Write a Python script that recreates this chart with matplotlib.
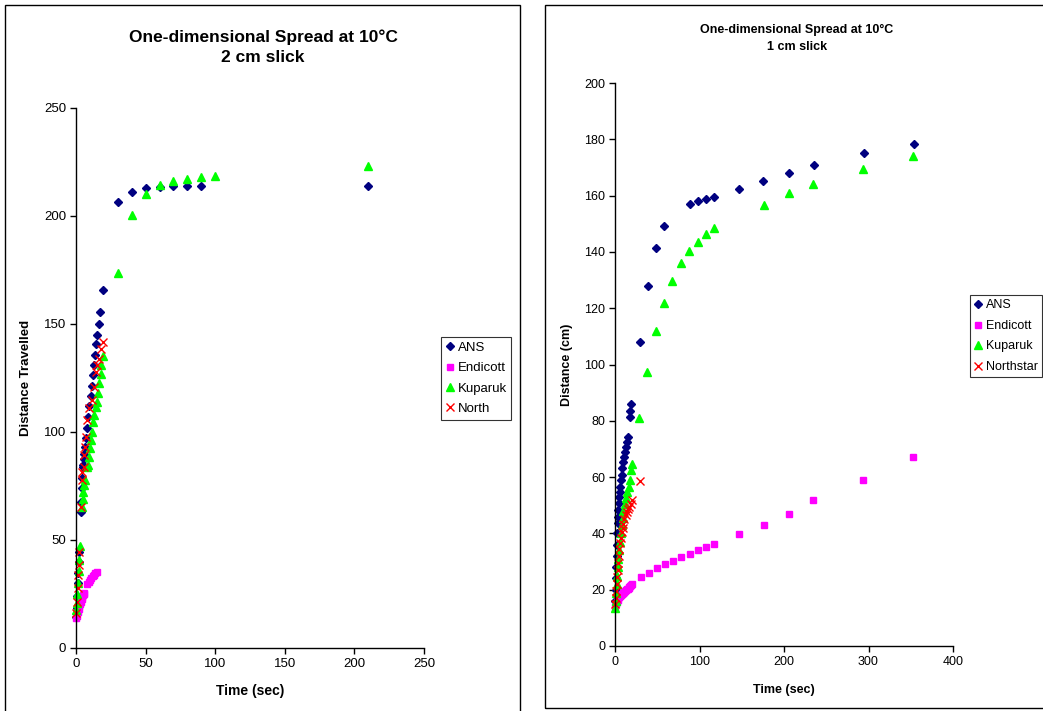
import matplotlib
matplotlib.use("Agg")
import matplotlib.pyplot as plt
from matplotlib.patches import Rectangle

plt.rcParams["font.family"] = ["Liberation Sans", "DejaVu Sans"]

# ---- 2 cm slick (left) ----
ans2_t = [0.3, 0.6, 0.9, 1.2, 1.5, 1.8, 2.1, 3.3, 3.7, 4.1, 4.5, 5.0, 5.3, 5.7, 6.0, 6.5, 7.0, 8.1,
          8.9, 9.6, 10.5, 11.2, 12.0, 12.9, 13.6, 14.6, 15.3, 16.5, 17.2, 19.2, 30, 40, 50, 60, 70,
          80, 90, 210]
ans2_d = [14.5, 18.5, 24, 30, 34.6, 40, 44.3, 63, 67.7, 74, 78.6, 84, 84.7, 87.3, 90, 93.2, 97,
          101.7, 107, 112, 116.7, 121.3, 126.4, 131, 135.6, 140.6, 145, 150, 155.5, 165.7, 206.5,
          211, 213, 213.5, 214, 214, 214, 214]
end2_t = [0.3, 1, 1.5, 2, 2.5, 3, 3.5, 4, 4.5, 5, 5.5, 6, 8, 9, 10, 11, 12, 13, 14, 15]
end2_d = [14, 15, 16.5, 18, 19.5, 20.5, 21.5, 22.5, 23.5, 24.5, 25, 25.5, 29.5, 30.5, 31.5, 32.5,
          33.3, 34, 34.6, 35.2]
kup2_t = [0.3, 0.7, 1.0, 1.4, 1.8, 2.2, 2.6, 4.5, 5.0, 5.3, 5.8, 6.2, 7.7, 8.9, 9.3, 10.0, 10.5,
          11.2, 12.0, 12.9, 14.4, 15.3, 16.0, 16.8, 17.7, 18.0, 19.6, 30, 40, 50, 60, 70, 80, 90,
          100, 210]
kup2_d = [17.6, 21, 25, 30, 35.6, 40.7, 47, 65.4, 69, 72, 75.5, 78, 84, 84.7, 88.6, 92.5, 96.3,
          100.2, 104.8, 107.9, 111.4, 114, 118, 122.5, 126.8, 131, 135, 173.5, 200.5, 210, 214.4,
          216, 217, 218, 218.5, 223]
nor2_t = [0.3, 0.8, 1.2, 1.6, 2.0, 2.4, 3.8, 4.5, 4.6, 5.5, 6.0, 6.5, 7.2, 8.1, 9.6, 11.2, 12.9,
          14.4, 15.3, 16.8, 18.0, 19.2]
nor2_d = [16, 21.5, 27.6, 34, 38.4, 44.3, 65.4, 77.8, 81.3, 84, 89.4, 93, 97.8, 105.6, 111, 114.8,
          121, 128, 131, 134, 138.3, 141.8]

# ---- 1 cm slick (right) ----
ans1_t = [0.3, 0.7, 1.0, 1.4, 1.8, 2.2, 2.6, 3.0, 3.4, 3.9, 4.4, 5.0, 5.5, 6.2, 7.1, 7.9, 8.7, 9.8,
          11.0, 11.8, 12.7, 13.8, 15.0, 17.2, 18.2, 18.8, 29.5, 39, 48.5, 58, 89, 98, 108, 117,
          147, 175, 206, 235.5, 295, 354]
ans1_d = [16, 20, 24, 28, 32, 36, 40, 43.6, 45.9, 48.3, 50.7, 53, 54.8, 56.6, 59, 60.8, 63.1, 65.5,
          67.3, 69, 70.8, 72.6, 74.4, 81.2, 83.6, 86, 108, 128, 141.4, 149.2, 157, 158, 158.8,
          159.5, 162.3, 165.2, 168, 170.9, 175, 178.3]
end1_t = [0.3, 1, 2, 3, 4, 5, 6, 7, 8, 9, 10, 11, 12, 13, 14, 15, 16, 17, 18, 19, 20, 30.8, 40,
          49.7, 59, 68.6, 78, 88.8, 98, 107.7, 117, 146.7, 176, 206, 234.3, 293.5, 352.7]
end1_d = [14, 15, 15.8, 16.5, 17, 17.4, 17.8, 18.1, 18.4, 18.7, 19, 19.2, 19.5, 19.8, 20.1, 20.4,
          20.7, 21, 21.3, 21.6, 22, 24.5, 26, 27.7, 29.1, 30.2, 31.6, 32.7, 34.1, 35.2, 36.2, 39.8,
          43, 46.9, 51.9, 59, 67.1]
kup1_t = [0.3, 0.8, 1.3, 1.8, 2.5, 3.2, 4, 5, 6, 7, 8, 9, 10, 11.5, 13, 14.5, 16, 17.8, 19, 19.7,
          28.4, 38, 48.5, 58, 67.5, 78, 87.6, 98, 107.7, 117, 176, 206, 234, 293.5, 352.7]
kup1_d = [13.5, 16, 19, 22, 25, 28, 31, 34, 37, 40, 43, 45.5, 48, 50.5, 52.5, 54.8, 56.6, 59, 62.5,
          64.7, 81, 97.3, 112, 122, 129.7, 136, 140.3, 143.5, 146.4, 148.5, 156.7, 161, 164, 169.4,
          174]
nor1_t = [0.3, 0.8, 1.3, 1.8, 2.4, 3, 3.7, 4.4, 5.2, 6, 7, 8, 9, 10, 11, 12.5, 14, 15.5, 17, 18.5,
          19.7, 29.6]
nor1_d = [15, 17, 19.5, 22, 24.5, 27, 29.5, 32, 34.5, 36.5, 38.5, 40.5, 42, 43.5, 45, 46.5, 47.5,
          48.5, 49.5, 50.5, 51.9, 58.7]

NAVY = "#000080"
MAGENTA = "#FF00FF"
GREEN = "#00FF00"
RED = "#FF0000"

W, H = 1043, 711
fig = plt.figure(figsize=(W / 100, H / 100), dpi=100)
fig.patch.set_facecolor("white")

# chart-area frames
fig.patches.append(Rectangle((5 / W, -0.02), 515 / W, 1.02 - 5 / H, transform=fig.transFigure,
                             fill=False, edgecolor="black", lw=1.0))
fig.patches.append(Rectangle((545 / W, 1 - 708 / H), 0.6, 703 / H, transform=fig.transFigure,
                             fill=False, edgecolor="black", lw=1.0))


def style_axis(ax, fs):
    for s in ("top", "right"):
        ax.spines[s].set_visible(False)
    for s in ("left", "bottom"):
        ax.spines[s].set_linewidth(1.0)
    ax.tick_params(direction="out", length=4, width=1.0, labelsize=fs, pad=3)


def draw(ax, series, north_label):
    t, d = series["ANS"]
    ax.plot(t, d, ls="none", marker="D", ms=4.2, color=NAVY, mec=NAVY, label="ANS", clip_on=False)
    t, d = series["Endicott"]
    ax.plot(t, d, ls="none", marker="s", ms=4.2, color=MAGENTA, mec=MAGENTA, label="Endicott",
            clip_on=False)
    t, d = series["Kuparuk"]
    ax.plot(t, d, ls="none", marker="^", ms=5.2, color=GREEN, mec=GREEN, label="Kuparuk",
            clip_on=False)
    t, d = series["North"]
    ax.plot(t, d, ls="none", marker="x", ms=5.5, mew=1.0, color=RED, label=north_label,
            clip_on=False)


# left chart
ax1 = fig.add_axes([76 / W, 1 - 648 / H, 348 / W, 540 / H])
draw(ax1, {"ANS": (ans2_t, ans2_d), "Endicott": (end2_t, end2_d),
           "Kuparuk": (kup2_t, kup2_d), "North": (nor2_t, nor2_d)}, "North")
ax1.set_xlim(0, 250)
ax1.set_ylim(0, 250)
ax1.set_xticks([0, 50, 100, 150, 200, 250])
ax1.set_yticks([0, 50, 100, 150, 200, 250])
style_axis(ax1, 9.5)
ax1.set_xlabel("Time (sec)", fontsize=10, fontweight="bold", labelpad=10)
ax1.set_ylabel("Distance Travelled", fontsize=9.5, fontweight="bold", labelpad=9)
fig.text(263 / W, 1 - 47 / H, "One-dimensional Spread at 10°C\n2 cm slick", ha="center",
         va="center", fontsize=12.5, fontweight="bold", linespacing=1.45)
leg1 = ax1.legend(loc="upper left", bbox_to_anchor=(441 / W, 1 - 337 / H),
                  bbox_transform=fig.transFigure, fontsize=9.5, frameon=True, fancybox=False,
                  edgecolor="black", borderpad=0.35, handlelength=0.6, handletextpad=0.3,
                  labelspacing=0.62, borderaxespad=0)
leg1.get_frame().set_linewidth(0.8)

# right chart
ax2 = fig.add_axes([615 / W, 1 - 646 / H, 338 / W, 563 / H])
draw(ax2, {"ANS": (ans1_t, ans1_d), "Endicott": (end1_t, end1_d),
           "Kuparuk": (kup1_t, kup1_d), "North": (nor1_t, nor1_d)}, "Northstar")
ax2.set_xlim(0, 400)
ax2.set_ylim(0, 200)
ax2.set_xticks([0, 100, 200, 300, 400])
ax2.set_yticks(list(range(0, 201, 20)))
style_axis(ax2, 9)
ax2.set_xlabel("Time (sec)", fontsize=9, fontweight="bold", labelpad=12)
ax2.set_ylabel("Distance (cm)", fontsize=9, fontweight="bold", labelpad=8)
fig.text(797 / W, 1 - 38.5 / H, "One-dimensional Spread at 10°C\n1 cm slick", ha="center",
         va="center", fontsize=9, fontweight="bold", linespacing=1.6)
leg2 = ax2.legend(loc="upper left", bbox_to_anchor=(970 / W, 1 - 295 / H),
                  bbox_transform=fig.transFigure, fontsize=9, frameon=True, fancybox=False,
                  edgecolor="black", borderpad=0.35, handlelength=0.6, handletextpad=0.3,
                  labelspacing=0.68, borderaxespad=0)
leg2.get_frame().set_linewidth(0.8)

fig.savefig("out.png", dpi=100)
